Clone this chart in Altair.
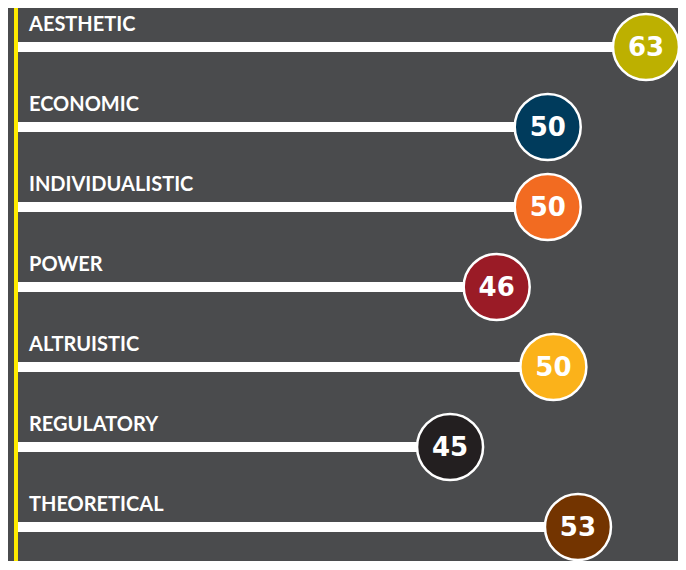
import altair as alt
import pandas as pd

# ---- data ----
categories = ["AESTHETIC", "ECONOMIC", "INDIVIDUALISTIC", "POWER",
              "ALTRUISTIC", "REGULATORY", "THEORETICAL"]
scores = [63, 50, 50, 46, 50, 45, 53]
# drawn bar length, as percent of the longest bar
bar_lengths = [100, 84.4, 84.4, 76.3, 85.3, 68.9, 89.2]
colors = ["#BDB000", "#003B5C", "#F26B21", "#9A1B26",
          "#FBB21A", "#231F20", "#733400"]

df = pd.DataFrame({
    "category": categories,
    "score": scores,
    "length": bar_lengths,
    "color": colors,
    "zero": [0] * len(categories),
})
line_df = pd.DataFrame({"x": [0]})

W, H = 670, 553
x_scale = alt.Scale(domain=[0, 100], range=[8, 638])
y_scale = alt.Scale(type="point", domain=categories, range=[39, 519], padding=0)

x_zero = alt.X("zero:Q", scale=x_scale, axis=None)
x_len = alt.X("length:Q", scale=x_scale, axis=None)
y_cat = alt.Y("category:N", scale=y_scale, axis=None)

base = alt.Chart(df)

bars = base.mark_rule(color="white", strokeWidth=10, strokeCap="butt").encode(
    x=x_zero, x2="length:Q", y=y_cat
)

yellow = alt.Chart(line_df).mark_rule(color="#FFEB00", strokeWidth=4).encode(
    x=alt.X("x:Q", scale=x_scale, axis=None)
)

circles = base.mark_circle(size=4356, opacity=1, stroke="white", strokeWidth=2.5).encode(
    x=x_len, y=y_cat, color=alt.Color("color:N", scale=None)
)

labels = base.mark_text(
    align="left", baseline="alphabetic", dx=13, dy=-16,
    font="Lato", fontSize=20, fontWeight="bold", color="white"
).encode(x=x_zero, y=y_cat, text="category:N")

values = base.mark_text(
    align="center", baseline="middle", dy=1,
    font="DejaVu Sans", fontSize=26, fontWeight="bold", color="white"
).encode(x=x_len, y=y_cat, text="score:Q")

chart = alt.layer(bars, yellow, circles, labels, values).properties(
    width=W, height=H, background="#4A4B4D", padding=0,
    autosize=alt.AutoSizeParams(type="none")
).configure_view(stroke=None)

chart.save("out.html", embed_options={"renderer": "svg", "actions": False})
